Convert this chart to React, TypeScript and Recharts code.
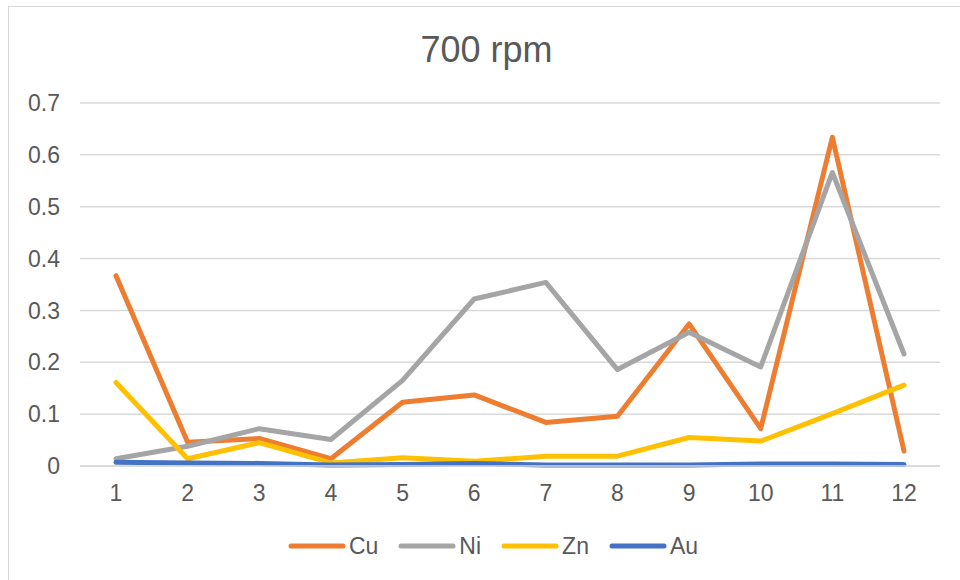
import React from "react";
import { LineChart, Line, XAxis, YAxis, CartesianGrid, Legend } from "recharts";

// Sample numbers 1..12
const samples = ["1", "2", "3", "4", "5", "6", "7", "8", "9", "10", "11", "12"];

// Concentrations per metal at 700 rpm
const cu = [0.367, 0.046, 0.053, 0.014, 0.123, 0.137, 0.084, 0.096, 0.274, 0.072, 0.634, 0.029];
const ni = [0.014, 0.038, 0.072, 0.051, 0.165, 0.322, 0.354, 0.186, 0.258, 0.191, 0.566, 0.216];
const zn = [0.161, 0.014, 0.045, 0.006, 0.016, 0.009, 0.019, 0.019, 0.055, 0.048, 0.101, 0.156];
const au = [0.007, 0.006, 0.005, 0.002, 0.003, 0.005, 0.002, 0.002, 0.002, 0.004, 0.004, 0.003];

const yTicks = [0, 0.1, 0.2, 0.3, 0.4, 0.5, 0.6, 0.7];

const series = [
  { key: "Cu", values: cu, color: "#ED7D31" },
  { key: "Ni", values: ni, color: "#A5A5A5" },
  { key: "Zn", values: zn, color: "#FFC000" },
  { key: "Au", values: au, color: "#4472C4" },
];
const seriesOrder = series.map((s) => s.key);

const data = samples.map((s, i) => {
  const row: Record<string, string | number> = { sample: s };
  series.forEach((ser) => {
    row[ser.key] = ser.values[i];
  });
  return row;
});

const FONT = "'Liberation Sans', Arial, sans-serif";
const TEXT = "#595959";

function LegendContent(props: any) {
  const items = [...(props.payload || [])].sort(
    (a: any, b: any) => seriesOrder.indexOf(a.value) - seriesOrder.indexOf(b.value)
  );
  return (
    <div
      style={{
        display: "flex",
        justifyContent: "center",
        alignItems: "center",
        height: 30,
        paddingLeft: 46,
        fontFamily: FONT,
        fontSize: 23,
        color: TEXT,
      }}
    >
      {items.map((it: any) => (
        <div key={it.value} style={{ display: "flex", alignItems: "center", marginRight: 20 }}>
          <svg width={58} height={8} style={{ marginRight: 3 }}>
            <line x1={3} y1={4} x2={55} y2={4} stroke={it.color} strokeWidth={5} strokeLinecap="round" />
          </svg>
          <span>{it.value}</span>
        </div>
      ))}
    </div>
  );
}

export default function App() {
  return (
    <div
      style={{
        position: "absolute",
        left: 8,
        top: 6,
        width: 960,
        height: 580,
        border: "1px solid #D9D9D9",
        boxSizing: "border-box",
        background: "#fff",
      }}
    >
      <div
        style={{
          position: "absolute",
          left: 0,
          width: 955,
          top: 25,
          textAlign: "center",
          fontFamily: FONT,
          fontSize: 36,
          lineHeight: "36px",
          color: TEXT,
        }}
      >
        700 rpm
      </div>
      <LineChart
        width={950}
        height={572}
        data={data}
        margin={{ top: 96, right: 19, bottom: 18, left: 11 }}
      >
        <CartesianGrid vertical={false} stroke="#D9D9D9" strokeWidth={1.5} />
        <XAxis
          dataKey="sample"
          scale="point"
          padding={{ left: 36, right: 36 }}
          height={65}
          axisLine={{ stroke: "#D9D9D9", strokeWidth: 1.5 }}
          tickLine={false}
          tickMargin={13}
          tick={{ fill: TEXT, fontSize: 23, fontFamily: FONT }}
        />
        <YAxis
          width={60}
          domain={[0, 0.7]}
          ticks={yTicks}
          interval={0}
          axisLine={false}
          tickLine={false}
          tickMargin={14}
          tick={{ fill: TEXT, fontSize: 23, fontFamily: FONT }}
        />
        <Legend verticalAlign="bottom" content={<LegendContent />} />
        {series.map((s) => (
          <Line
            key={s.key}
            dataKey={s.key}
            name={s.key}
            stroke={s.color}
            strokeWidth={5}
            strokeLinecap="round"
            strokeLinejoin="round"
            dot={false}
            activeDot={false}
            isAnimationActive={false}
          />
        ))}
      </LineChart>
    </div>
  );
}
